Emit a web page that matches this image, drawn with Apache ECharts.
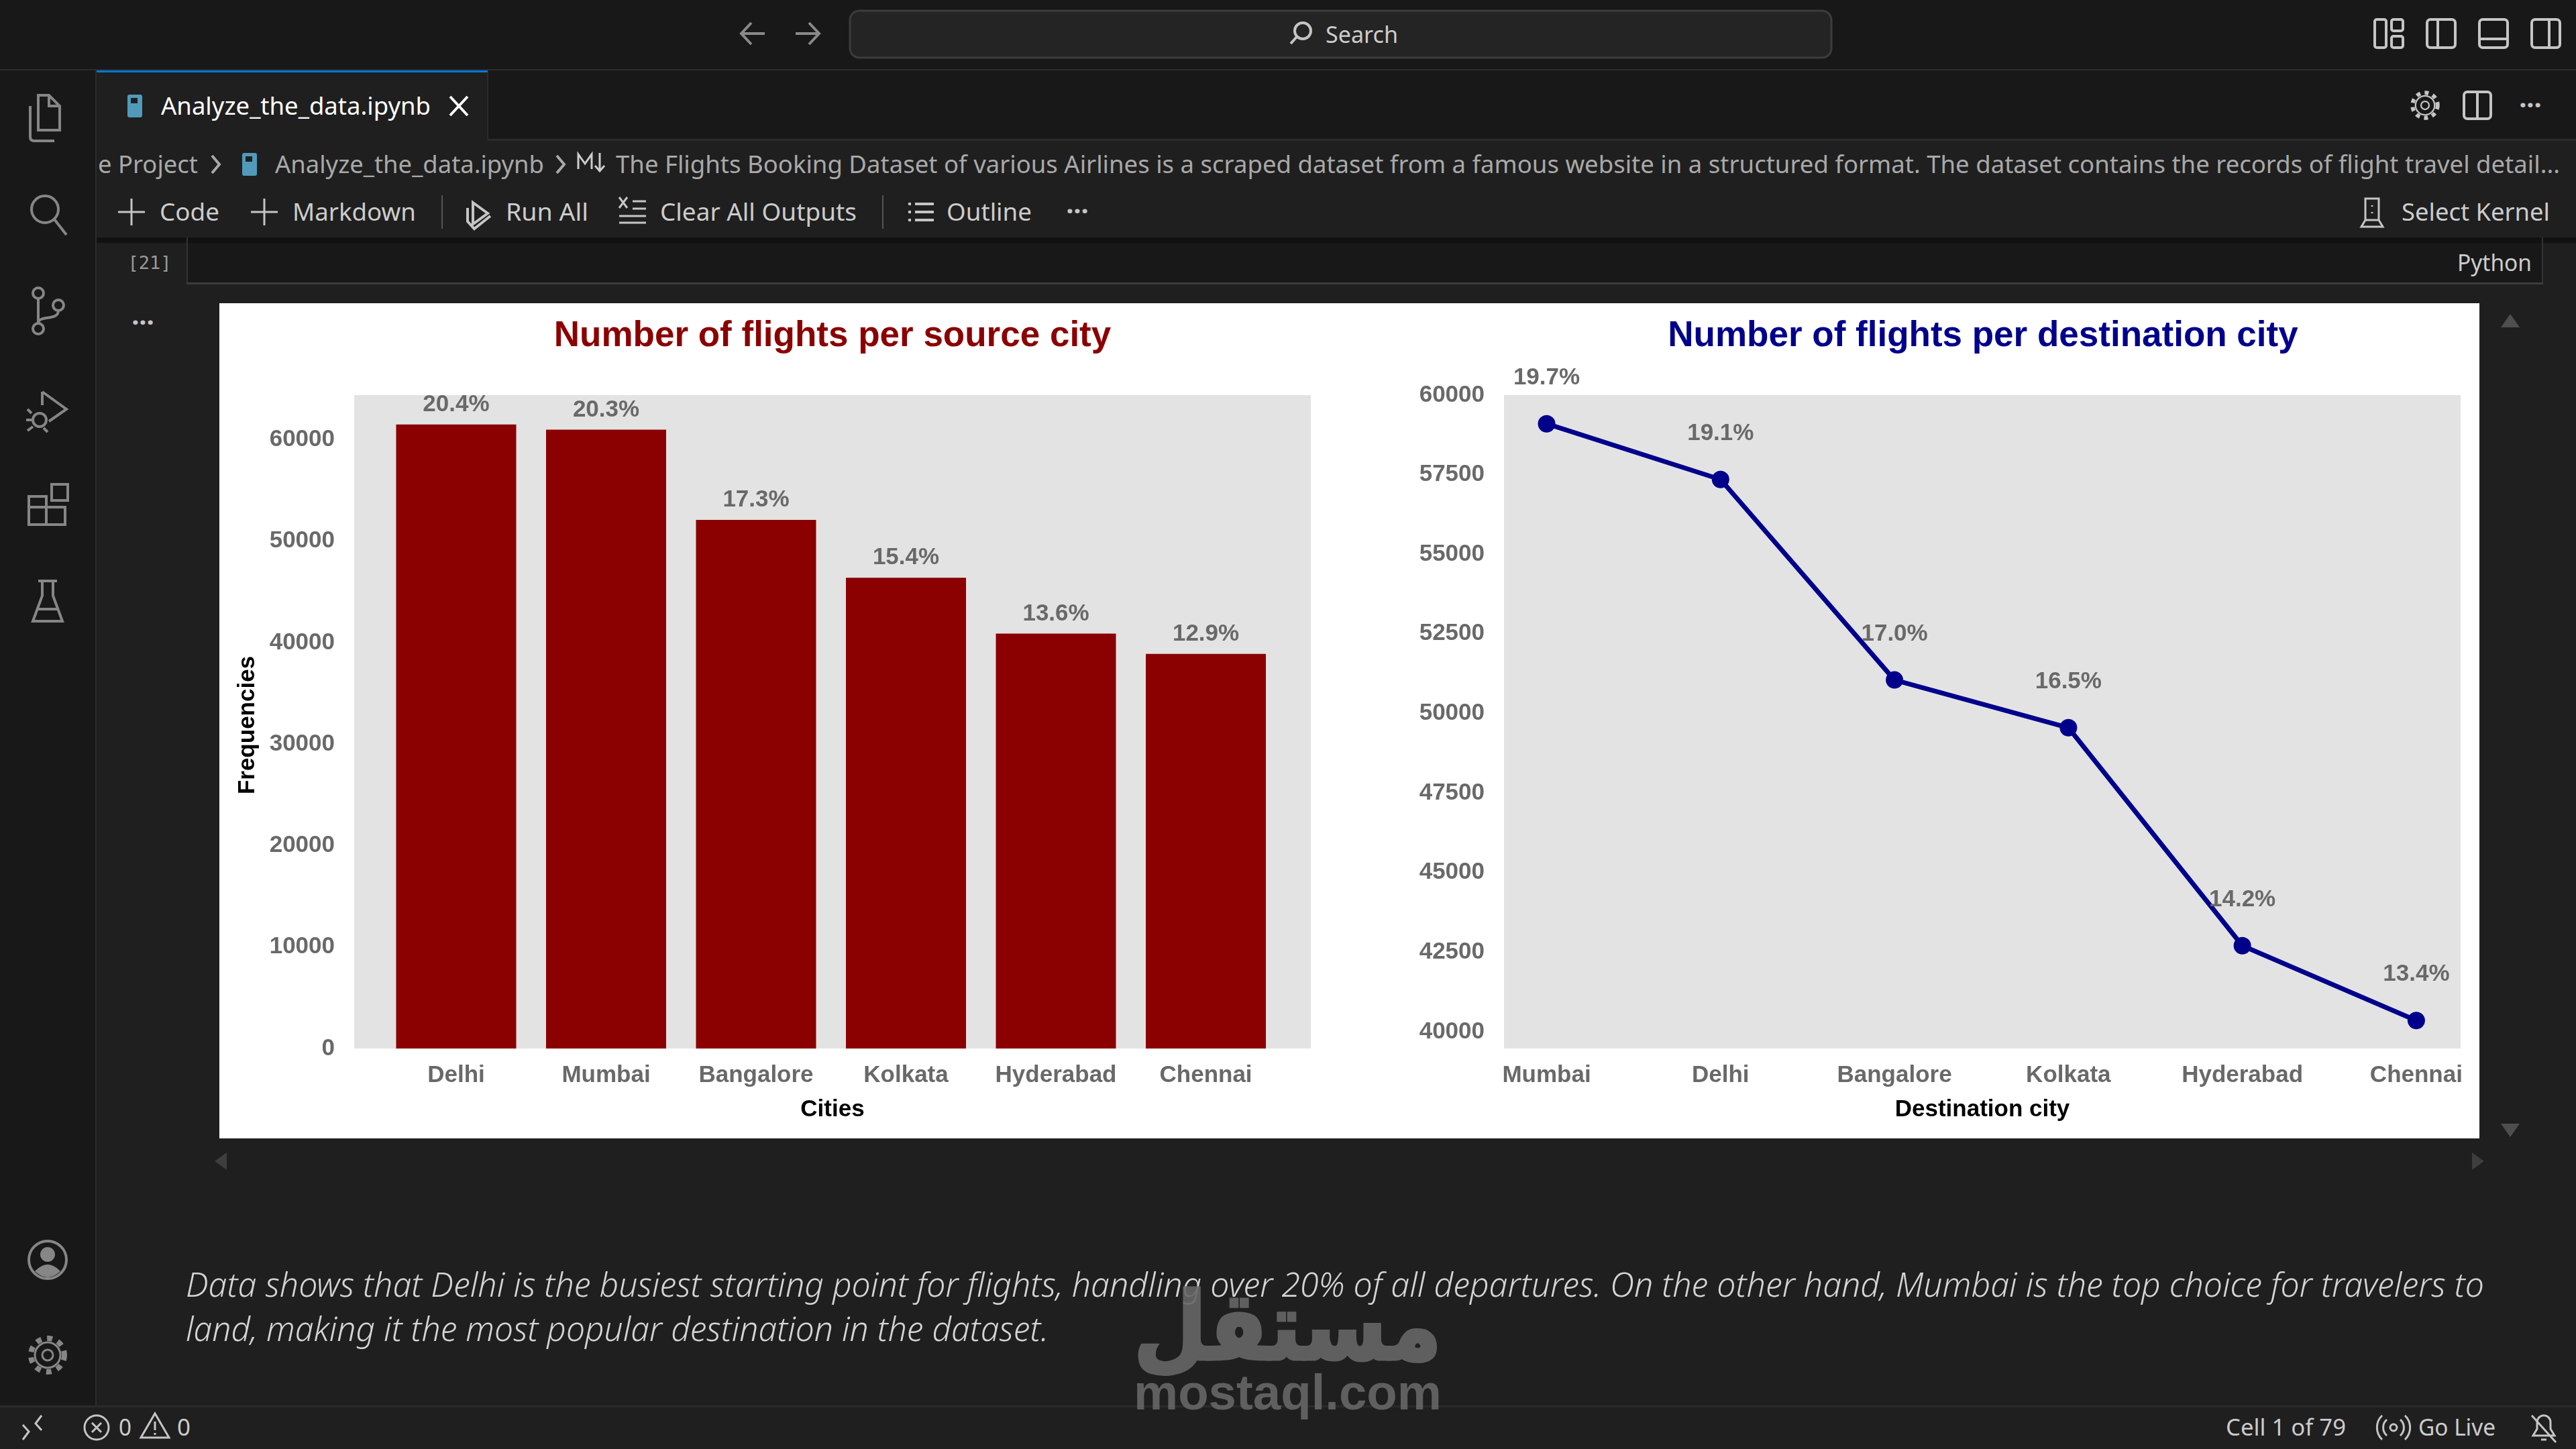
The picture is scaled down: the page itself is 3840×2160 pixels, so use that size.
<!DOCTYPE html>
<html>
<head>
<meta charset="utf-8">
<title>Analyze_the_data.ipynb</title>
<script src="https://cdn.jsdelivr.net/npm/echarts@6/dist/echarts.min.js"></script>
<style>
  html, body { margin: 0; padding: 0; width: 3840px; height: 2160px; overflow: hidden; background: #1f1f1f; }
  svg { position: absolute; left: 0; top: 0; }
  #chart { position: absolute; left: 327px; top: 452px; width: 3369px; height: 1245px; background: #fff; }
  #top { pointer-events: none; }
  .ic { fill: none; stroke-width: 4; }
</style>
</head>
<body>
<svg id="chrome" width="3840" height="2160" viewBox="0 0 3840 2160"></svg>
<div id="chart"></div>
<svg id="top" width="3840" height="2160" viewBox="0 0 3840 2160"></svg>
<script>
// values
const sourceCities = ['Delhi', 'Mumbai', 'Bangalore', 'Kolkata', 'Hyderabad', 'Chennai'];
const sourceCounts = [61500, 61000, 52100, 46400, 40900, 38900];
const sourcePct = ['20.4%', '20.3%', '17.3%', '15.4%', '13.6%', '12.9%'];
const sourceTicks = [0, 10000, 20000, 30000, 40000, 50000, 60000];

const destCities = ['Mumbai', 'Delhi', 'Bangalore', 'Kolkata', 'Hyderabad', 'Chennai'];
const destCounts = [59100, 57350, 51050, 49550, 42700, 40350];
const destPct = ['19.7%', '19.1%', '17.0%', '16.5%', '14.2%', '13.4%'];
const destTicks = [40000, 42500, 45000, 47500, 50000, 52500, 55000, 57500, 60000];

const positions = [0, 1, 2, 3, 4, 5];

const GREY = '#696969';
const FONT = '"Liberation Sans", Arial, sans-serif';
const tickStyle = { color: GREY, fontFamily: FONT, fontWeight: 'bold', fontSize: 35 };
const nameStyle = { color: '#000', fontFamily: FONT, fontWeight: 'bold', fontSize: 35 };

function catAxis(names, min, max, idx, name) {
  return {
    type: 'value', gridIndex: idx, min: min, max: max,
    name: name, nameLocation: 'middle', nameGap: 74, nameTextStyle: nameStyle,
    splitLine: { show: false }, axisLine: { show: false }, axisTick: { show: false },
    axisLabel: Object.assign({ customValues: positions, margin: 23, formatter: v => names[v] }, tickStyle)
  };
}
const plainNumber = v => String(v);

const chart = echarts.init(document.getElementById('chart'), null, { renderer: 'canvas' });
chart.setOption({
  animation: false,
  backgroundColor: 'transparent',
  title: [
    { text: 'Number of flights per source city', left: 909, top: 18, textAlign: 'center',
      textStyle: { color: '#8b0000', fontFamily: FONT, fontWeight: 'bold', fontSize: 53 } },
    { text: 'Number of flights per destination city', left: 2624, top: 18, textAlign: 'center',
      textStyle: { color: '#00008b', fontFamily: FONT, fontWeight: 'bold', fontSize: 53 } }
  ],
  grid: [
    { left: 201, top: 137, width: 1426, height: 974, show: true, backgroundColor: '#e3e3e3', borderWidth: 0 },
    { left: 1915, top: 137, width: 1426, height: 974, show: true, backgroundColor: '#e3e3e3', borderWidth: 0 }
  ],
  xAxis: [
    catAxis(sourceCities, -0.68, 5.70, 0, 'Cities'),
    catAxis(destCities, -0.245, 5.255, 1, 'Destination city')
  ],
  yAxis: [
    {
      type: 'value', gridIndex: 0, min: 0, max: 64400,
      name: 'Frequencies', nameLocation: 'middle', nameGap: 141,
      nameTextStyle: Object.assign({ padding: [0, 10, 0, 0] }, nameStyle),
      splitLine: { show: false }, axisLine: { show: false }, axisTick: { show: false },
      axisLabel: Object.assign({ customValues: sourceTicks, margin: 29, padding: [7, 0, 0, 0], formatter: plainNumber }, tickStyle)
    },
    {
      type: 'value', gridIndex: 1, min: 39470, max: 60000,
      splitLine: { show: false }, axisLine: { show: false }, axisTick: { show: false },
      axisLabel: Object.assign({ customValues: destTicks, margin: 29, padding: [7, 0, 0, 0], formatter: plainNumber }, tickStyle)
    }
  ],
  series: [
    {
      type: 'bar', xAxisIndex: 0, yAxisIndex: 0, barWidth: 179,
      data: sourceCounts.map((v, i) => [positions[i], v]),
      itemStyle: { color: '#8b0000' },
      label: Object.assign({ show: true, position: 'top', distance: 12, formatter: p => sourcePct[p.dataIndex] }, tickStyle)
    },
    {
      type: 'line', xAxisIndex: 1, yAxisIndex: 1, symbol: 'circle', symbolSize: 26,
      data: destCounts.map((v, i) => [positions[i], v]),
      lineStyle: { color: '#00008b', width: 7 },
      itemStyle: { color: '#00008b' },
      label: Object.assign({ show: true, position: 'top', distance: 38, formatter: p => destPct[p.dataIndex] }, tickStyle)
    }
  ]
});

// editor frame around the chart: text is [string, x0, x1, centre y, size, colour]
const UI = '"Noto Sans", "Open Sans", sans-serif';
const uiTexts = [
  ['Search', 1976, 2084, 52, 34, '#cccccc'],
  ['Analyze_the_data.ipynb', 240, 642, 158, 36, '#ffffff'],
  ['e Project', 146, 295, 245, 36, '#a9a9a9'],
  ['Analyze_the_data.ipynb', 410, 811, 245, 36, '#a9a9a9'],
  ['The Flights Booking Dataset of various Airlines is a scraped dataset from a famous website in a structured format. The dataset contains the records of flight travel detail...', 918, 3816, 245, 36, '#a9a9a9'],
  ['Code', 238, 327, 316, 36, '#cccccc'],
  ['Markdown', 436, 620, 316, 36, '#cccccc'],
  ['Run All', 754, 877, 316, 36, '#cccccc'],
  ['Clear All Outputs', 984, 1277, 316, 36, '#cccccc'],
  ['Outline', 1411, 1538, 316, 36, '#cccccc'],
  ['Select Kernel', 3580, 3801, 316, 36, '#cccccc'],
  ['Python', 3663, 3774, 392, 34, '#cccccc'],
  ['Cell 1 of 79', 3318, 3497, 2128, 34, '#cccccc'],
  ['Go Live', 3605, 3720, 2128, 34, '#cccccc'],
  ['0', 177, 196, 2128, 34, '#cccccc'],
  ['0', 264, 284, 2128, 34, '#cccccc']
];
const noteLines = [
  ['Data shows that Delhi is the busiest starting point for flights, handling over 20% of all departures. On the other hand, Mumbai is the top choice for travelers to', 277, 3703, 1915],
  ['land, making it the most popular destination in the dataset.', 277, 1563, 1981]
];

function textTag(t, x0, x1, y, size, color, extra) {
  return `<text x="${x0}" y="${y + size * 0.36}" textLength="${x1 - x0}" lengthAdjust="spacingAndGlyphs" font-size="${size}" fill="${color}" font-family='${UI}' ${extra || ''}>${t}</text>`;
}
function icon(x, y, color, body) {
  return `<g transform="translate(${x},${y})" class="ic" stroke="${color}">${body}</g>`;
}
function dots(x, y) {
  return `<text x="${x}" y="${y}" font-size="40" font-weight="bold" fill="#c5c5c5" text-anchor="middle" font-family='${UI}'>···</text>`;
}
const gear = '<circle r="25" stroke-width="8" stroke-dasharray="8 8.6"/><circle r="19" stroke-width="3"/><circle r="8" stroke-width="3"/>';
const nbIcon = '<rect x="-11" y="-17" width="22" height="34" rx="3" fill="#519aba" stroke="none"/><rect x="-6" y="-12" width="10" height="8" fill="#1f1f1f" stroke="none"/>';
const A = '#868686', C = '#c5c5c5', D = '#8a8a8a';

let html = `
  <rect width="3840" height="105" fill="#181818"/>
  <rect y="103" width="3840" height="3" fill="#2b2b2b"/>
  <rect x="1267" y="16" width="1463" height="70" rx="14" fill="#242424" stroke="#3c3c3c" stroke-width="3"/>
  <rect y="105" width="143" height="1990" fill="#181818"/>
  <rect x="142" y="105" width="2" height="1990" fill="#2b2b2b"/>
  <rect x="144" y="105" width="3696" height="104" fill="#181818"/>
  <rect x="144" y="207" width="3696" height="3" fill="#2b2b2b"/>
  <rect x="144" y="105" width="583" height="105" fill="#1f1f1f"/>
  <rect x="144" y="105" width="583" height="3" fill="#0078d4"/>
  <rect x="726" y="108" width="2" height="100" fill="#2b2b2b"/>
  <rect x="144" y="354" width="3696" height="8" fill="#111111"/>
  <rect x="278" y="362" width="3512" height="60" fill="#181818"/>
  <rect x="278" y="354" width="2" height="70" fill="#333333"/>
  <rect x="3789" y="354" width="2" height="70" fill="#333333"/>
  <rect x="278" y="421" width="3513" height="3" fill="#3c3c3c"/>
  <rect x="658" y="291" width="2" height="50" fill="#555"/>
  <rect x="1315" y="291" width="2" height="50" fill="#555"/>
  <rect y="2095" width="3840" height="3" fill="#2b2b2b"/>
`;
html += icon(71, 176, A, '<path d="M-14 -34h16l16 16v36h-32z M2 -34v16h16 M-26 -18v46q0 6 6 6h30"/>');
html += icon(71, 318, A, '<circle cx="-4" cy="-6" r="20"/><path d="M10 9L28 32"/>');
html += icon(71, 463, A, '<circle cx="-14" cy="-26" r="8"/><circle cx="-14" cy="27" r="8"/><circle cx="16" cy="-8" r="8"/><path d="M-14 -18V19M16 0C16 16 -14 6 -14 19"/>');
html += icon(71, 612, A, '<path d="M-8 -28L28 -2L2 16M-8 -28V-8"/><circle cx="-12" cy="14" r="10"/><path d="M-24 4L-30 -2M-24 14H-32M-22 24L-30 30M-6 26L0 32"/>');
html += icon(71, 754, A, '<rect x="-28" y="-14" width="26" height="42"/><rect x="-2" y="2" width="28" height="26"/><rect x="6" y="-32" width="24" height="24"/><path d="M-28 2H-2"/>');
html += icon(71, 896, A, '<path d="M-14 -30H14M-8 -30V-8L-22 30H22L8 -8V-30M-15 12H15"/>');
html += icon(71, 1878, A, '<circle r="28"/><circle cy="-8" r="9" fill="#868686"/><path d="M-16 17q16 -16 32 0q-16 14 -32 0z" fill="#868686"/>');
html += icon(71, 2020, A, gear);
html += icon(1124, 50, D, '<path d="M16 0H-18M-4 -16L-19 0L-4 16"/>');
html += icon(1202, 50, D, '<path d="M-16 0H18M4 -16L19 0L4 16"/>');
html += icon(1940, 49, C, '<circle cx="2" cy="-3" r="12"/><path d="M-7 6L-16 16"/>');
[3561, 3639, 3717, 3795].forEach((x, i) => {
  const inner = [
    '<rect x="-21" y="-21" width="17" height="42" rx="3"/><rect x="4" y="-21" width="17" height="17" rx="3"/><rect x="4" y="4" width="17" height="17" rx="3"/>',
    '<rect x="-21" y="-21" width="42" height="42" rx="5"/><path d="M-5 -21V21"/>',
    '<rect x="-21" y="-21" width="42" height="42" rx="5"/><path d="M-21 8H21"/>',
    '<rect x="-21" y="-21" width="42" height="42" rx="5"/><path d="M5 -21V21"/>'
  ][i];
  html += icon(x, 50, C, inner);
});
html += icon(3615, 157, C, '<g transform="scale(.75)">' + gear + '</g>');
html += icon(3693, 157, C, '<rect x="-20" y="-20" width="40" height="40" rx="5"/><path d="M0 -20V20"/>');
html += dots(3772, 171);
html += icon(201, 158, '#fff', nbIcon);
html += icon(684, 158, '#fff', '<path d="M-13 -14L13 14M13 -14L-13 14"/>');
html += icon(372, 245, '#fff', nbIcon);
html += icon(321, 245, '#a9a9a9', '<path d="M-5 -13L6 0L-5 13"/>');
html += icon(835, 245, '#a9a9a9', '<path d="M-5 -13L6 0L-5 13"/>');
html += icon(882, 242, '#cccccc', '<path d="M-20 10V-12L-10 2L0 -12V10M12 -14V12M5 5L12 13L19 5" stroke-width="3"/>');
html += icon(196, 316, C, '<path d="M0 -20V20M-20 0H20" stroke-width="3"/>');
html += icon(394, 316, C, '<path d="M0 -20V20M-20 0H20" stroke-width="3"/>');
html += icon(713, 318, C, '<path d="M-8 -16L14 0L-8 16ZM-16 -8V12L-6 23L18 4"/>');
html += icon(943, 312, C, '<path d="M-20 -18L-8 -2M-8 -18L-20 -2M0 -12H20M0 -1H20M-20 10H20M-20 20H20" stroke-width="3"/>');
html += icon(1372, 316, C, '<path d="M-8 -12H20M-8 0H20M-8 12H20M-18 -12H-14M-18 0H-14M-18 12H-14" stroke-width="4"/>');
html += dots(1606, 329);
html += icon(3536, 316, C, '<path d="M-10 -20H10V12H-10ZM-10 12L-16 22H16L10 12M0 -10V-8M0 0V2" stroke-width="3"/>');
html += dots(213, 495);
html += `<text x="223" y="401" font-size="27" fill="#9a9a9a" text-anchor="middle" font-family='"DejaVu Sans Mono", monospace'>[21]</text>`;
html += '<path d="M3742 468L3756 488H3728Z M3742 1695L3756 1675H3728Z" fill="#4e4e4e"/>';
html += '<path d="M320 1731L338 1718V1744Z M3703 1731L3685 1718V1744Z" fill="#3e3e3e"/>';
html += icon(48, 2128, C, '<path d="M-14 -4L-5 6L-14 18M14 -18L5 -6L14 4" stroke-width="3"/>');
html += icon(144, 2128, C, '<circle r="18" stroke-width="3"/><path d="M-7 -7L7 7M7 -7L-7 7" stroke-width="3"/>');
html += icon(231, 2126, C, '<path d="M0 -19L21 17H-21ZM0 -7V6M0 10V13" stroke-width="3"/>');
html += icon(3568, 2128, C, '<circle r="5" stroke-width="3"/><path d="M-10 -12a16 16 0 0 0 0 24M10 -12a16 16 0 0 1 0 24M-17 -18a25 25 0 0 0 0 36M17 -18a25 25 0 0 1 0 36" stroke-width="3"/>');
html += icon(3792, 2128, C, '<path d="M-16 12H16L10 2V-8A10 10 0 0 0 -10 -8V2ZM-4 18H4M-18 -18L18 22" stroke-width="3"/>');

uiTexts.forEach(t => { html += textTag(t[0], t[1], t[2], t[3], t[4], t[5]); });
noteLines.forEach(n => { html += textTag(n[0], n[1], n[2], n[3], 50, '#d4d4d4', 'font-style="italic" font-weight="300"'); });
document.getElementById('chrome').innerHTML = html;

// watermark sits over everything
document.getElementById('top').innerHTML = `
  <g fill="#666666" opacity="0.9" font-family='"Liberation Sans", sans-serif' font-weight="bold">
    <text x="2149" y="2026" textLength="459" lengthAdjust="spacingAndGlyphs" font-size="140" stroke="#666666" stroke-width="5" font-family='"DejaVu Sans", sans-serif' direction="rtl" unicode-bidi="plaintext">مستقل</text>
    <text x="1690" y="2101" textLength="459" lengthAdjust="spacingAndGlyphs" font-size="75">mostaql.com</text>
  </g>`;
</script>
</body>
</html>
